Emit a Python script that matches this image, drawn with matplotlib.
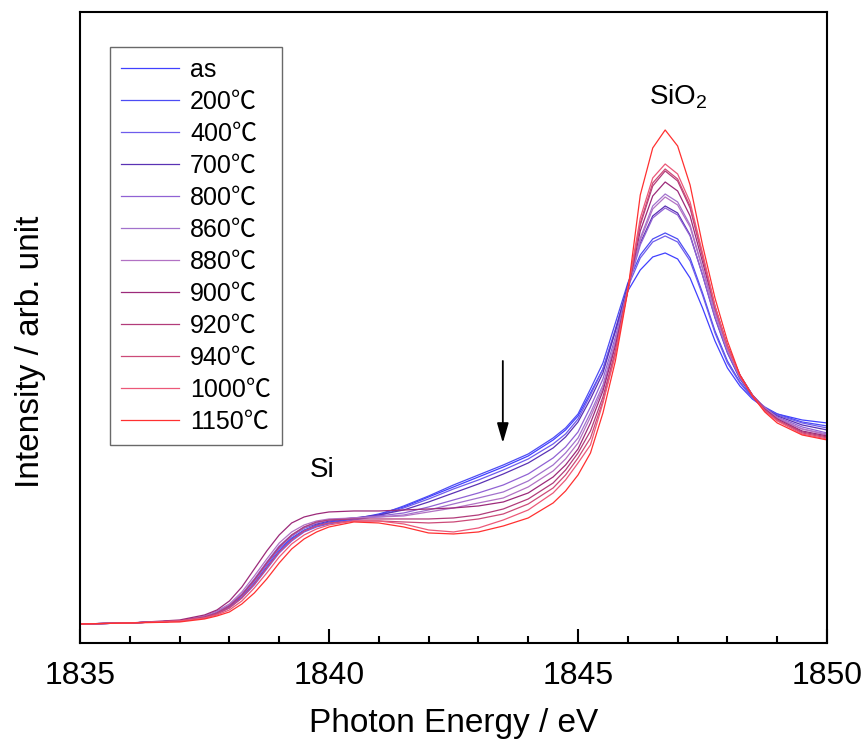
#Si K-edge XANES spectra after annealing

import matplotlib.pyplot as plt
from matplotlib.ticker import MultipleLocator

#----------------------------------------------------------------------------------

photon_energy = [1835, 1836, 1837, 1837.5, 1837.75, 1838, 1838.25, 1838.5, 1838.75, 1839,
                 1839.25, 1839.5, 1839.75, 1840, 1840.5, 1841,
                 1841.5, 1842, 1842.5, 1843, 1843.5, 1844, 1844.5, 1844.75, 1845,
                 1845.25, 1845.5, 1845.75, 1846, 1846.25, 1846.5, 1846.75, 1847, 1847.25,
                 1847.5, 1847.75, 1848, 1848.25, 1848.5, 1848.75, 1849, 1849.5, 1850]

labels = ["as", "200℃", "400℃", "700℃", "800℃", "860℃", "880℃",
          "900℃", "920℃", "940℃", "1000℃", "1150℃"]

colors = ["#4040ff", "#4c4cf4", "#6e5cec", "#5a32b4", "#9062d4", "#a272cc", "#b272c4",
          "#9c2a7a", "#b23c7a", "#cc4a78", "#ec5878", "#ff3030"]

#intensity in arbitrary units
i_as = [19, 20, 22, 26, 30, 36, 46, 60, 76, 92, 104, 112, 117, 120, 124, 129,
        136, 146, 156, 166, 176, 187, 203, 213, 227,
        250, 274, 312, 352, 373, 386, 390, 384, 365, 335, 302, 275, 257, 244, 235, 229, 223, 220]
i_200 = [19, 20, 22, 26, 30, 37, 48, 62, 78, 94, 105, 113, 118, 121, 124, 128,
         137, 147, 158, 168, 178, 189, 205, 215, 229,
         254, 280, 320, 360, 388, 404, 410, 404, 385, 350, 312, 282, 261, 246, 236, 229, 221, 217]
i_400 = [19, 20, 22, 25, 29, 35, 45, 58, 74, 90, 102, 111, 116, 119, 123, 127,
         135, 144, 154, 163, 173, 184, 199, 209, 224,
         248, 274, 314, 356, 385, 401, 407, 401, 382, 348, 310, 280, 260, 245, 235, 228, 220, 215]
i_700 = [19, 20, 22, 26, 30, 37, 48, 63, 80, 96, 107, 115, 119, 122, 125, 128,
         133, 141, 150, 159, 169, 180, 195, 206, 221,
         244, 270, 312, 358, 400, 427, 437, 430, 408, 368, 325, 290, 264, 247, 235, 227, 218, 213]
i_800 = [19, 20, 22, 26, 31, 38, 49, 64, 81, 97, 108, 116, 120, 123, 125, 127,
         130, 136, 143, 150, 158, 169, 185, 196, 211,
         236, 264, 306, 355, 398, 425, 435, 428, 407, 368, 326, 291, 265, 248, 235, 226, 216, 210]
i_860 = [19, 20, 22, 26, 30, 37, 48, 62, 79, 95, 107, 115, 120, 123, 125, 126,
         128, 133, 139, 145, 151, 162, 178, 190, 205,
         230, 258, 302, 354, 405, 437, 449, 441, 418, 375, 331, 294, 267, 248, 235, 225, 214, 209]
i_880 = [19, 20, 22, 27, 32, 39, 51, 67, 84, 100, 111, 118, 122, 124, 125, 126,
         127, 131, 135, 140, 145, 156, 172, 184, 200,
         226, 255, 300, 352, 403, 434, 446, 438, 416, 374, 330, 294, 267, 248, 235, 225, 214, 208]
i_900 = [19, 20, 23, 28, 33, 42, 56, 74, 92, 108, 120, 126, 129, 131, 132, 132,
         133, 134, 135, 137, 141, 150, 166, 178, 194,
         220, 252, 297, 353, 412, 447, 461, 452, 427, 381, 335, 297, 268, 248, 234, 224, 212, 207]
i_920 = [19, 20, 22, 26, 30, 37, 48, 63, 80, 96, 108, 116, 121, 123, 124, 124,
         124, 124, 125, 128, 134, 144, 160, 173, 190,
         212, 246, 292, 353, 418, 457, 472, 462, 435, 386, 336, 297, 268, 248, 233, 223, 211, 206]
i_940 = [19, 20, 22, 25, 29, 35, 45, 59, 75, 91, 103, 112, 117, 120, 122, 122,
         121, 120, 121, 124, 129, 139, 155, 168, 185,
         205, 242, 290, 353, 420, 460, 474, 464, 437, 388, 337, 297, 268, 248, 233, 223, 210, 205]
i_1000 = [19, 20, 22, 25, 28, 33, 42, 55, 70, 86, 99, 108, 114, 118, 122, 122,
          119, 113, 111, 115, 123, 133, 150, 163, 180,
          198, 240, 288, 354, 425, 465, 479, 469, 441, 390, 337, 296, 267, 247, 232, 222, 209, 204]
i_1150 = [19, 20, 21, 24, 27, 31, 39, 50, 64, 80, 94, 104, 111, 116, 121, 120,
          116, 110, 109, 111, 117, 125, 140, 152, 168,
          190, 230, 282, 352, 448, 495, 513, 497, 458, 398, 345, 302, 268, 247, 231, 220, 208, 203]

spectra = [i_as, i_200, i_400, i_700, i_800, i_860, i_880, i_900, i_920, i_940, i_1000, i_1150]

#----------------------------------------------------------------------------------

plt.rcParams['font.family'] = ['Liberation Sans', 'Noto Sans CJK JP', 'DejaVu Sans']
plt.rcParams['mathtext.default'] = 'regular'

fig = plt.figure(figsize = (8.66, 7.44), dpi = 100)
ax = fig.add_axes([0.0924, 0.1358, 0.8626, 0.8481])

for spectrum, label, color in zip(spectra, labels, colors):
    ax.plot(photon_energy, spectrum, color = color, linewidth = 0.9, label = label)

ax.set_xlim(1835, 1850)
ax.set_ylim(0, 631)

ax.xaxis.set_major_locator(MultipleLocator(5))
ax.xaxis.set_minor_locator(MultipleLocator(1))
ax.tick_params(axis = "x", which = "both", direction = "in", top = False, width = 1.5)
ax.tick_params(axis = "x", which = "major", length = 10, pad = 13, labelsize = 23)
ax.tick_params(axis = "x", which = "minor", length = 5)
ax.tick_params(axis = "y", left = False, labelleft = False)

for spine in ax.spines.values():
    spine.set_linewidth(1.5)

ax.set_xlabel("Photon Energy / eV", fontsize = 24, labelpad = 12)
ax.set_ylabel("Intensity / arb. unit", fontsize = 24)
ax.yaxis.set_label_coords(-0.046, 0.461)

ax.text(1839.86, 173, "Si", fontsize = 20, ha = "center", va = "center")
ax.text(1847.01, 546, "SiO$_2$", fontsize = 20, ha = "center", va = "center")

ax.annotate("", xy = (1843.49, 200), xytext = (1843.49, 282),
            arrowprops = dict(arrowstyle = "-|>,head_length=1.2,head_width=0.35",
                              color = "black", linewidth = 1.3, shrinkA = 0, shrinkB = 0))

legend = ax.legend(loc = "upper left", bbox_to_anchor = (0.040, 0.9445), borderaxespad = 0,
                   fontsize = 18, labelspacing = 0.32, handlelength = 2.3, handletextpad = 0.45,
                   borderpad = 0.45, fancybox = False, edgecolor = "#444444")
legend.get_frame().set_linewidth(1.0)

#----------------------------------------------------------------------------------

plt.savefig("out.png", dpi = 100)
